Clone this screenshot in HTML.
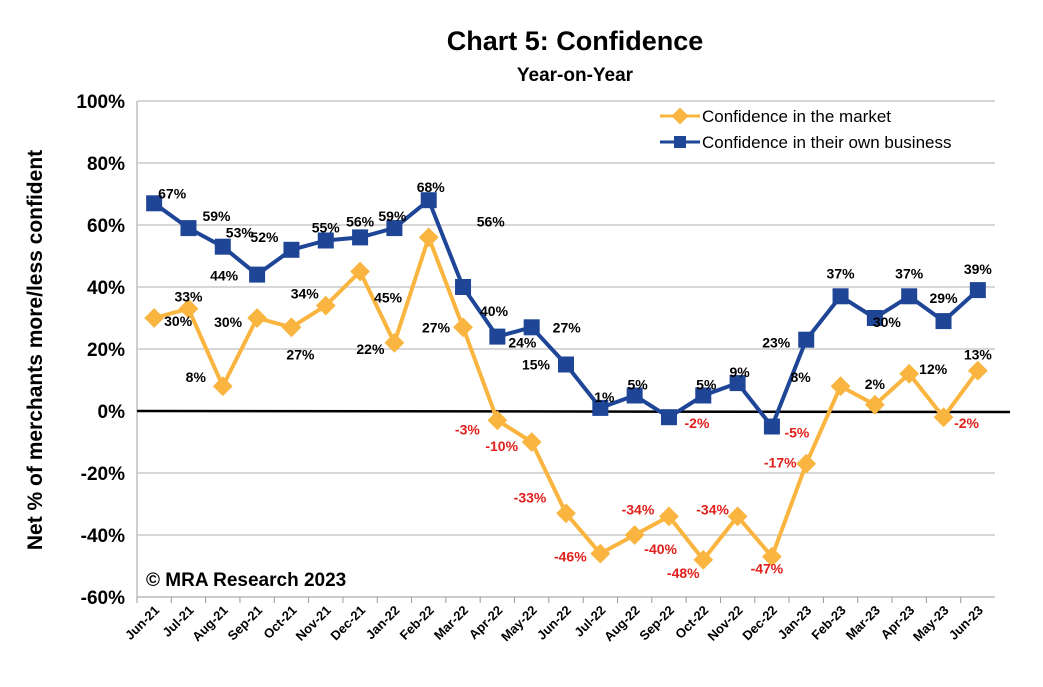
<!DOCTYPE html>
<html><head><meta charset="utf-8"><style>
body{margin:0;background:#fff;}
svg text{font-family:"Liberation Sans",sans-serif;}
</style></head><body>
<svg id="c" width="1043" height="682" xmlns="http://www.w3.org/2000/svg">
<text x="575" y="50" text-anchor="middle" font-size="27" font-weight="bold">Chart 5: Confidence</text>
<text x="575" y="81" text-anchor="middle" font-size="19" font-weight="bold">Year-on-Year</text>
<text transform="translate(42,350) rotate(-90)" text-anchor="middle" font-size="21" font-weight="bold">Net % of merchants more/less confident</text>
<g id="grid"></g>
<g id="yt"></g>
<g id="xt"></g>
<g id="series"></g>
<text x="146" y="586" font-size="19" font-weight="bold">© MRA Research 2023</text>
<g>
<g>
<line x1="660" y1="116" x2="700" y2="116" stroke="#F9B53F" stroke-width="3"/>
<rect x="674" y="110" width="12" height="12" fill="#F9B53F" transform="rotate(45 680 116)"/>
<text x="702" y="122" font-size="17">Confidence in the market</text></g>
<g>
<line x1="660" y1="142" x2="700" y2="142" stroke="#1F4597" stroke-width="3"/>
<rect x="674" y="136" width="12" height="12" fill="#1F4597"/>
<text x="702" y="148" font-size="17">Confidence in their own business</text></g>
</g>
</svg>
<script>
const categories=["Jun-21","Jul-21","Aug-21","Sep-21","Oct-21","Nov-21","Dec-21","Jan-22","Feb-22","Mar-22","Apr-22","May-22","Jun-22","Jul-22","Aug-22","Sep-22","Oct-22","Nov-22","Dec-22","Jan-23","Feb-23","Mar-23","Apr-23","May-23","Jun-23"];
const market=[30,33,8,30,27,34,45,22,56,27,-3,-10,-33,-46,-40,-34,-48,-34,-47,-17,8,2,12,-2,13];
const business=[67,59,53,44,52,55,56,59,68,40,24,27,15,1,5,-2,5,9,-5,23,37,30,37,29,39];
const yTicks=[100,80,60,40,20,0,-20,-40,-60];
// label offsets (pixel style, not data)
const mOff=[[24,3],[0,-12],[-27,-9],[-29,4],[9,27],[-21,-12],[28,26],[-24,6],[62,-16],[-27,0],[-30,9],[-30,4],[-36,-16],[-30,3],[26,14],[-31,-7],[-20,13],[-25,-7],[-5,12],[-26,-1],[-40,-9],[0,-21],[24,-5],[23,6],[0,-16]];
const bOff=[[18,-10],[28,-12],[17,-14],[-33,1],[-27,-13],[0,-13],[0,-16],[-2,-12],[2,-13],[31,24],[25,6],[35,0],[-30,0],[4,-11],[3,-11],[28,6],[3,-11],[2,-11],[25,6],[-30,3],[0,-23],[12,4],[0,-23],[0,-23],[0,-21]];
const NS="http://www.w3.org/2000/svg";
const L=137,R=995,T=101,B=597;
const bw=(R-L)/categories.length;
const x=i=>L+bw*(i+0.5);
const y=v=>T+(100-v)/160*(B-T);
function mk(tag,attrs,parent){const e=document.createElementNS(NS,tag);for(const k in attrs)e.setAttribute(k,attrs[k]);parent.appendChild(e);return e;}
const grid=document.getElementById('grid'),yt=document.getElementById('yt'),xt=document.getElementById('xt'),ser=document.getElementById('series');
yTicks.forEach(v=>{
 if(v!==0){const g=mk('line',{x1:L,x2:R,y1:y(v),y2:y(v),stroke:'#bfbfbf','stroke-width':1.2},grid);
 
 }
 const t=mk('text',{x:L-12,y:y(v)+7,'text-anchor':'end','font-size':19,'font-weight':'bold'},yt);
 t.textContent=v+'%';
 
 
});
mk('line',{x1:L,x2:L,y1:T,y2:B,stroke:'#bfbfbf','stroke-width':1.5},grid);
mk('line',{x1:L,x2:R,y1:B,y2:B,stroke:'#bfbfbf','stroke-width':1.5},grid);
categories.forEach((c,i)=>{
 mk('line',{x1:L+bw*i,x2:L+bw*i,y1:B,y2:B+6,stroke:'#999'},xt);
 const t=mk('text',{transform:`translate(${x(i)+6},${B+14}) rotate(-45)`,'text-anchor':'end','font-size':13,'font-weight':'bold'},xt);
 t.textContent=c;
 
 
});
mk('line',{x1:L,x2:1010,y1:y(0),y2:y(0)+1,stroke:'#000','stroke-width':2.5},grid);
function drawSeries(vals,color,shape,offs,name){
 const g=mk('g',{},ser);
 
 
 mk('polyline',{points:vals.map((v,i)=>x(i)+','+y(v)).join(' '),fill:'none',stroke:color,'stroke-width':4,'stroke-linejoin':'round'},g);
 vals.forEach((v,i)=>{
  let m;
  if(shape==='sq') m=mk('rect',{x:x(i)-8,y:y(v)-8,width:16,height:16,fill:color},g);
  else m=mk('rect',{x:x(i)-7,y:y(v)-7,width:14,height:14,fill:color,transform:`rotate(45 ${x(i)} ${y(v)})`},g);
  
  
 });
 vals.forEach((v,i)=>{
  const t=mk('text',{x:x(i)+offs[i][0],y:y(v)+offs[i][1]+5,'text-anchor':'middle','font-size':14,'font-weight':'bold',fill:v<0?'#e0201b':'#000'},g);
  t.textContent=v+'%';
  
  
 });
}
drawSeries(business,'#1F4597','sq',bOff,'series-business');
drawSeries(market,'#F9B53F','dia',mOff,'series-market');
</script>
</body></html>
